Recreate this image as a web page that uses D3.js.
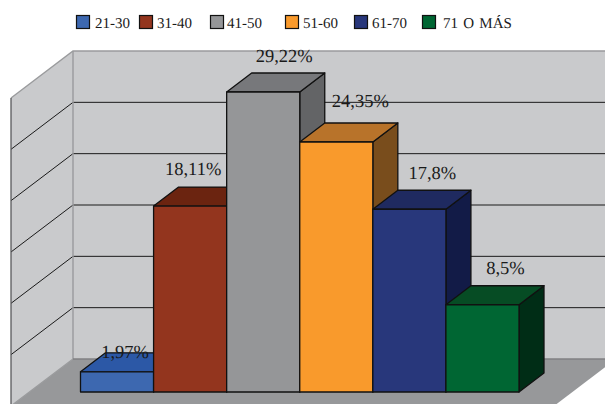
<!DOCTYPE html>
<html><head><meta charset="utf-8">
<script src="https://cdn.jsdelivr.net/npm/d3@7/dist/d3.min.js"></script>
<style>html,body{margin:0;padding:0;background:#fff}svg{display:block}text{font-family:"Liberation Serif","Times New Roman",serif;fill:#1a1a1a;text-rendering:geometricPrecision}</style>
</head><body><svg id="c" width="605" height="404"></svg>
<script>
const categories = ["21-30","31-40","41-50","51-60","61-70","71 O MÁS"];
const values = [1.97,18.11,29.22,24.35,17.8,8.5];
const valueLabels = ["1,97%","18,11%","29,22%","24,35%","17,8%","8,5%"];
const gridTicks = [0,5,10,15,20,25,30];
const frontColors = ["#3d68b0","#93351e","#959698","#f99a2c","#28377b","#006633"];
const topColors = ["#2c58a6","#6b2410","#77787b","#b8732a","#1f2a60","#064c24"];
const sideColors = ["#24478a","#5a1e0c","#636466","#794d1c","#121b47","#002d16"];
const labelDx = [8,3,21,24,23,23];
const labelDy = [-14,-31,-30,-35,-30,-31];
const legendX = [76,139,210,285,354,422];
const legendTextDx = [19,18,17,18,18,21];

const svg = d3.select("#c");
const x = d3.scaleBand().domain(categories).range([80.5,519]).padding(0);
const y = d3.scaleLinear().domain([0,30]).range([392,84]);
const barDepth = {dx:25, dy:-19};
const back = {dx:0, dy:-33, left:73, right:616};
const side = {left:11, bottomOffset:14};
const lineGen = d3.line();

const by = v => y(v)+back.dy;
const sy = v => y(v)+side.bottomOffset;

// floor
svg.append("path").attr("fill","#97989a").attr("d",lineGen([[side.left,sy(0)],[back.left,by(0)],[back.right,by(0)],[back.right-62,sy(0)]])+"Z");
// walls
svg.append("path").attr("fill","#c9cacc").attr("d",lineGen([[back.left,by(30)],[back.right,by(30)],[back.right,by(0)],[back.left,by(0)]])+"Z");
svg.append("path").attr("fill","#c9cacc").attr("d",lineGen([[side.left,sy(30)],[back.left,by(30)],[back.left,by(0)],[side.left,sy(0)]])+"Z");
// gridlines
svg.append("g").selectAll("path").data(gridTicks.slice(1,-1)).join("path")
  .attr("fill","none").attr("stroke","#1a1a1a").attr("stroke-width",1)
  .attr("d",t=>lineGen([[side.left,sy(t)],[back.left,by(t)],[back.right,by(t)]]));
// wall edges
svg.append("path").attr("fill","none").attr("stroke","#9a9b9d").attr("stroke-width",1.4)
  .attr("d",lineGen([[side.left,sy(30)],[back.left,by(30)],[back.right,by(30)]]));
svg.append("path").attr("fill","none").attr("stroke","#9a9b9d").attr("stroke-width",1.4)
  .attr("d",lineGen([[back.left,by(30)],[back.left,by(0)],[side.left,sy(0)]]));
svg.append("path").attr("fill","none").attr("stroke","#808183").attr("stroke-width",1.4)
  .attr("d",lineGen([[back.left,by(0)],[back.right,by(0)]]));
svg.append("path").attr("fill","none").attr("stroke","#58595b").attr("stroke-width",1.3)
  .attr("d",lineGen([[side.left,sy(30)],[side.left,sy(0)]]));

// bars
const bars = svg.append("g").attr("stroke","#111").attr("stroke-width",1.3).attr("stroke-linejoin","round");
categories.forEach((c,i)=>{
  const x0=x(c), x1=x0+x.bandwidth(), t=y(values[i]), b=y(0), dx=barDepth.dx, dy=barDepth.dy;
  bars.append("path").attr("fill",sideColors[i]).attr("d",lineGen([[x1,t],[x1+dx,t+dy],[x1+dx,b+dy],[x1,b]])+"Z");
  bars.append("path").attr("fill",topColors[i]).attr("d",lineGen([[x0,t],[x0+dx,t+dy],[x1+dx,t+dy],[x1,t]])+"Z");
  bars.append("path").attr("fill",frontColors[i]).attr("d",lineGen([[x0,t],[x1,t],[x1,b],[x0,b]])+"Z");
});
// value labels
svg.append("g").selectAll("text").data(categories).join("text")
  .attr("text-anchor","middle").attr("font-size",18.5)
  .attr("x",(c,i)=>x(c)+x.bandwidth()/2+labelDx[i])
  .attr("y",(c,i)=>y(values[i])+labelDy[i])
  .text((c,i)=>valueLabels[i]);
// legend
const lg = svg.append("g").selectAll("g").data(categories).join("g")
  .attr("transform",(c,i)=>`translate(${legendX[i]},15)`);
lg.append("rect").attr("x",.5).attr("y",.5).attr("width",13).attr("height",13)
  .attr("fill",(c,i)=>frontColors[i]).attr("stroke","#111").attr("stroke-width",1.2);
lg.append("text").attr("x",(c,i)=>legendTextDx[i]).attr("y",13).attr("font-size",15).attr("word-spacing",1.5).text(c=>c);
</script></body></html>
